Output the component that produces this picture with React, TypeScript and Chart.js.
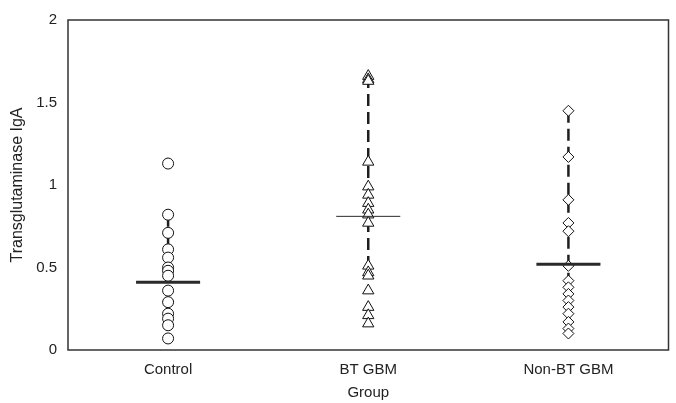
import { useEffect, useRef } from "react";
import { Chart, registerables } from "chart.js";

Chart.register(...registerables);

const groups = ["Control", "BT GBM", "Non-BT GBM"];
const controlValues = [1.13, 0.82, 0.71, 0.61, 0.56, 0.5, 0.48, 0.45, 0.36, 0.29, 0.22, 0.19, 0.15, 0.07];
const btGbmValues = [1.66, 1.64, 1.63, 1.14, 0.99, 0.94, 0.89, 0.85, 0.82, 0.77, 0.51, 0.47, 0.45, 0.36, 0.26, 0.21, 0.16];
const nonBtGbmValues = [1.45, 1.17, 0.91, 0.77, 0.72, 0.51, 0.42, 0.38, 0.34, 0.3, 0.26, 0.22, 0.17, 0.13, 0.1];
const groupMeans = [0.41, 0.81, 0.52];
const whiskerLow = [0.36, 0.45, 0.42];
const whiskerHigh = [0.82, 1.66, 1.45];
const yTicks = [0, 0.5, 1, 1.5, 2];

const FONT = "'Liberation Sans', Arial, Helvetica, sans-serif";

const framePlugin = {
  id: "frame",
  afterDatasetsDraw(chart: any) {
    const { ctx, chartArea } = chart;
    ctx.save();
    ctx.strokeStyle = "#333";
    ctx.lineWidth = 1.5;
    ctx.strokeRect(chartArea.left, chartArea.top, chartArea.right - chartArea.left, chartArea.bottom - chartArea.top);
    ctx.restore();
  },
};

export default function App() {
  const ref = useRef<HTMLCanvasElement | null>(null);

  useEffect(() => {
    document.body.style.margin = "0";
    const canvas = ref.current;
    if (!canvas) return;

    const seriesValues = [controlValues, btGbmValues, nonBtGbmValues];
    const pointStyles = ["circle", "triangle", "rectRot"];
    const pointRadii = [5.5, 6.5, 5.5];
    const meanWidths = [3, 1, 3];

    const datasets: any[] = [];
    groups.forEach((g, i) => {
      datasets.push({
        label: g + " range",
        data: [
          { x: i, y: whiskerHigh[i] },
          { x: i, y: whiskerLow[i] },
        ],
        showLine: true,
        borderColor: "#1e1e1e",
        borderWidth: 2.5,
        borderDash: [12, 6],
        pointRadius: 0,
        order: 3,
      });
      datasets.push({
        label: g + " mean",
        data: [
          { x: i - 0.16, y: groupMeans[i] },
          { x: i + 0.16, y: groupMeans[i] },
        ],
        showLine: true,
        borderColor: "#2a2a2a",
        borderWidth: meanWidths[i],
        pointRadius: 0,
        order: 1,
      });
      datasets.push({
        label: g,
        data: seriesValues[i].map((y) => ({ x: i, y })),
        showLine: false,
        pointStyle: pointStyles[i],
        pointRadius: pointRadii[i],
        backgroundColor: "#ffffff",
        borderColor: "#111",
        pointBorderWidth: 1,
        order: 2,
      });
    });

    const chart = new Chart(canvas, {
      type: "scatter",
      data: { datasets },
      plugins: [framePlugin],
      options: {
        animation: false,
        responsive: false,
        maintainAspectRatio: false,
        layout: { padding: { top: 17, right: 6, left: 0, bottom: 0 } },
        plugins: { legend: { display: false }, tooltip: { enabled: false } },
        scales: {
          x: {
            type: "linear",
            min: -0.5,
            max: 2.5,
            afterBuildTicks: (s: any) => {
              s.ticks = groups.map((_, i) => ({ value: i }));
            },
            afterFit: (s: any) => {
              s.height = 53;
            },
            grid: { display: false, drawTicks: false },
            border: { display: false },
            ticks: {
              autoSkip: false,
              maxRotation: 0,
              padding: 11,
              color: "#222",
              font: { family: FONT, size: 15 },
              callback: (v: any) => groups[Math.round(Number(v))] ?? "",
            },
            title: {
              display: true,
              text: "Group",
              color: "#222",
              font: { family: FONT, size: 15 },
              padding: { top: 0, bottom: 1 },
            },
          },
          y: {
            min: 0,
            max: 2,
            afterBuildTicks: (s: any) => {
              s.ticks = yTicks.map((v) => ({ value: v }));
            },
            afterFit: (s: any) => {
              s.width = 68;
            },
            grid: { display: false, drawTicks: false },
            border: { display: false },
            ticks: {
              padding: 11,
              color: "#222",
              font: { family: FONT, size: 15 },
              callback: (v: any) => String(v),
            },
            title: {
              display: true,
              text: "Transglutaminase IgA",
              color: "#222",
              font: { family: FONT, size: 16 },
              padding: { top: 8, bottom: 0 },
            },
          },
        },
      },
    });

    return () => chart.destroy();
  }, []);

  return (
    <div style={{ width: 676, height: 403 }}>
      <canvas ref={ref} width={676} height={403} style={{ display: "block" }} />
    </div>
  );
}
